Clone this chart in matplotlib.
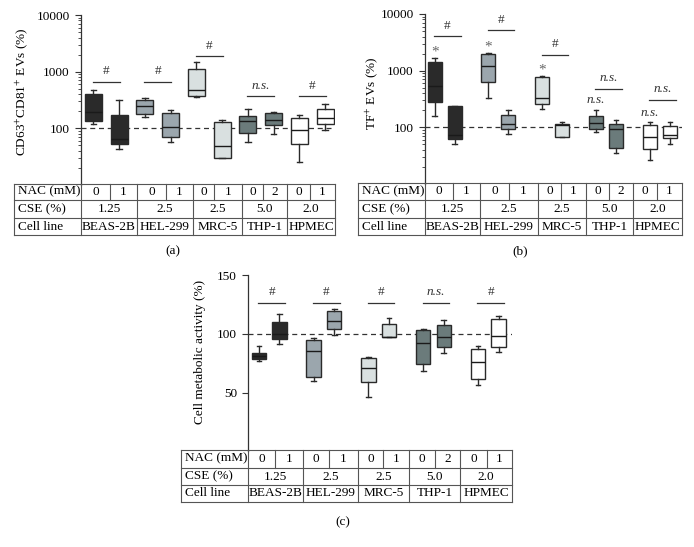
import matplotlib
matplotlib.use('Agg')
import matplotlib.pyplot as plt
from matplotlib.lines import Line2D
from matplotlib.ticker import LogLocator, NullFormatter, FixedLocator

plt.rcParams['font.family'] = ['Liberation Serif', 'DejaVu Serif']
plt.rcParams['mathtext.fontset'] = 'stix'
plt.rcParams['font.size'] = 9.5

W, H = 694, 547

# ---------------- data ----------------
cell_lines = ['BEAS-2B', 'HEL-299', 'MRC-5', 'THP-1', 'HPMEC']
cse_values = ['1.25', '2.5', '2.5', '5.0', '2.0']
nac_values = ['0', '1', '0', '1', '0', '1', '0', '2', '0', '1']
box_colors = ['#2a2a2a', '#9ba6ad', '#d9e0e0', '#6b7b7b', '#ffffff']

# panel (a): CD63+CD81+ EVs (%) -- order: line0 NAC0, line0 NAC1, ...
a_whishi = [468, 320, 348, 208, 1461, 140, 219, 192, 170, 269]
a_q3 = [398, 172, 316, 184, 1100, 128, 163, 186, 150, 219]
a_med = [192, 64, 244, 104, 475, 49, 135, 142, 92, 150]
a_q1 = [137, 52, 179, 69, 367, 30, 84, 113, 52, 119]
a_whislo = [119, 43, 158, 58, 358, 30, 57, 78, 25, 92]
a_sig_y = [666, 666, 1890, 372, 372]
a_sig = ['#', '#', '#', 'n.s.', '#']

# panel (b): TF+ EVs (%)
b_whishi = [1663, 242, 2033, 201, 796, 122, 206, 134, 122, 126]
b_q3 = [1397, 235, 1953, 162, 776, 113, 158, 116, 108, 105]
b_med = [540, 73, 1190, 114, 334, 111, 119, 92, 67, 73]
b_q1 = [280, 61, 626, 92, 262, 67, 94, 44, 41, 64]
b_whislo = [158, 50, 329, 77, 214, 67, 82, 35, 26, 51]
b_sig_y = [4077, 5120, 1901, 479, 308]
b_sig = ['#', '#', '#', 'n.s.', 'n.s.']
b_vs_ctrl_y = [2393, 2924, 1143, 299, 180]
b_vs_ctrl = ['*', '*', '*', 'n.s.', 'n.s.']

# panel (c): Cell metabolic activity (%)
c_whishi = [89.5, 117.3, 96.9, 121.3, 80.1, 113.9, 104.3, 112.2, 90.1, 115.1]
c_q3 = [83.5, 110.5, 94.9, 119.9, 79.5, 108.2, 103.7, 107.4, 86.9, 112.5]
c_med = [81.5, 100.0, 85.5, 111.1, 71.3, 97.7, 92.3, 97.4, 76.1, 98.3]
c_q1 = [79.0, 95.5, 63.6, 104.0, 59.4, 97.4, 74.4, 89.2, 61.4, 89.2]
c_whislo = [76.7, 91.8, 60.2, 99.1, 46.6, 97.4, 68.5, 84.1, 56.3, 84.4]
c_sig_y = [126.7, 126.7, 126.7, 126.7, 126.7]
c_sig = ['#', '#', '#', 'n.s.', '#']

fig = plt.figure(figsize=(W / 100, H / 100), dpi=100)


def fx(px):
    return px / W


def fy(py):
    return 1 - py / H


def add_ax(l, r, t, b):
    return fig.add_axes([fx(l), fy(b), (r - l) / W, (b - t) / H])


def line(x0, y0, x1, y1, color='#555555', lw=0.8):
    fig.add_artist(Line2D([fx(x0), fx(x1)], [fy(y0), fy(y1)], color=color, lw=lw,
                          transform=fig.transFigure))


def draw_boxes(ax, whislo, q1, med, q3, whishi, off, width):
    stats, pos, cols = [], [], []
    for i in range(10):
        g = i // 2
        stats.append(dict(whislo=whislo[i], q1=q1[i], med=med[i], q3=q3[i],
                          whishi=whishi[i], fliers=[]))
        pos.append(g + (-off if i % 2 == 0 else off))
        cols.append(box_colors[g])
    res = ax.bxp(stats, positions=pos, widths=width, patch_artist=True,
                 showfliers=False, capwidths=width * 0.32,
                 boxprops=dict(edgecolor='#2a2a2a', linewidth=1.0),
                 medianprops=dict(color='#1a1a1a', linewidth=1.0),
                 whiskerprops=dict(color='#2a2a2a', linewidth=1.0),
                 capprops=dict(color='#2a2a2a', linewidth=1.0))
    for patch, c in zip(res['boxes'], cols):
        patch.set_facecolor(c)


def style_ax(ax):
    for s in ['top', 'right', 'bottom']:
        ax.spines[s].set_visible(False)
    ax.spines['left'].set_linewidth(0.9)
    ax.spines['left'].set_color('#333333')
    ax.set_xticks([])
    ax.tick_params(axis='y', which='major', direction='out', length=4, width=0.8,
                   color='#333333', pad=4, labelsize=9.5)
    ax.tick_params(axis='y', which='minor', direction='out', length=2, width=0.6,
                   color='#333333')
    ax.patch.set_alpha(0)


def sig_bars(ax, ys, labels, shift, half):
    for g, (y, lab) in enumerate(zip(ys, labels)):
        c = g + shift
        ax.plot([c - half, c + half], [y, y], color='#333333', lw=0.9)
        ax.annotate(lab, (c, y), xytext=(0, 7.5), textcoords='offset points',
                    ha='center', va='center', fontsize=9.5,
                    style='italic' if lab == 'n.s.' else 'normal', color='#333333')


def draw_table(left, axis_x, right, rows, groups, subs):
    for y in rows:
        line(left, y, right, y)
    for x in [left, right] + groups[:-1]:
        line(x, rows[0], x, rows[3])
    for x in subs:
        line(x, rows[0], x, rows[1])
    labels = ['NAC (mM)', 'CSE (%)', 'Cell line']
    for r in range(3):
        yc = (rows[r] + rows[r + 1]) / 2
        fig.text(fx(left + 4), fy(yc), labels[r], ha='left', va='center', fontsize=9.5)
    for g in range(5):
        cells = [(groups[g], subs[g]), (subs[g], groups[g + 1])]
        for k, (a, b) in enumerate(cells):
            fig.text(fx((a + b) / 2), fy((rows[0] + rows[1]) / 2), nac_values[2 * g + k],
                     ha='center', va='center', fontsize=9.5)
        xc = (groups[g] + groups[g + 1]) / 2
        fig.text(fx(xc), fy((rows[1] + rows[2]) / 2), cse_values[g],
                 ha='center', va='center', fontsize=9.5)
        fig.text(fx(xc), fy((rows[2] + rows[3]) / 2), cell_lines[g],
                 ha='center', va='center', fontsize=9.5)


# ---------------- panel (a) ----------------
axa = add_ax(81, 335, 15, 185)
axa.set_yscale('log')
draw_boxes(axa, a_whislo, a_q1, a_med, a_q3, a_whishi, 0.25, 0.33)
axa.set_ylim(10, 10000)
axa.set_xlim(-0.490, 4.442)
axa.axhline(100, color='#333333', lw=0.9, ls=(0, (4, 3)), zorder=0.5)
axa.set_yticks([100, 1000, 10000])
axa.set_yticklabels(['100', '1000', '10000'])
axa.yaxis.set_minor_locator(LogLocator(base=10, subs=range(2, 10)))
axa.yaxis.set_minor_formatter(NullFormatter())
style_ax(axa)
sig_bars(axa, a_sig_y, a_sig, 0.0, 0.26)
fig.text(fx(22), fy(92), 'CD63$^{+}$CD81$^{+}$ EVs (%)', rotation=90,
         ha='center', va='center', fontsize=9.5)
draw_table(13.5, 81, 335, [183.5, 200, 218, 235],
           [81, 137, 193, 242, 287, 335], [110, 165.7, 214.3, 263.3, 310])
fig.text(fx(173), fy(251), '(a)', ha='center', va='center', fontsize=9.5)

# ---------------- panel (b) ----------------
axb = add_ax(425, 682, 14, 184)
axb.set_yscale('log')
draw_boxes(axb, b_whislo, b_q1, b_med, b_q3, b_whishi, 0.186, 0.26)
axb.set_ylim(10, 10000)
axb.set_xlim(-0.364, 4.413)
axb.axhline(100, color='#333333', lw=0.9, ls=(0, (4, 3)), zorder=0.5)
axb.set_yticks([100, 1000, 10000])
axb.set_yticklabels(['100', '1000', '10000'])
axb.yaxis.set_minor_locator(LogLocator(base=10, subs=range(2, 10)))
axb.yaxis.set_minor_formatter(NullFormatter())
style_ax(axb)
sig_bars(axb, b_sig_y, b_sig, 0.05, 0.248)
for g, (y, lab) in enumerate(zip(b_vs_ctrl_y, b_vs_ctrl)):
    if lab == '*':
        axb.annotate(lab, (g - 0.186, y), xytext=(0, -2), textcoords='offset points',
                     ha='center', va='center', fontsize=11, color='#666666')
    else:
        axb.annotate(lab, (g - 0.186, y), ha='center', va='center', fontsize=9.5,
                     style='italic', color='#333333')
fig.text(fx(372), fy(93), 'TF$^{+}$ EVs (%)', rotation=90,
         ha='center', va='center', fontsize=9.5)
draw_table(358, 425, 682, [183, 200, 218, 235],
           [425, 480, 538, 586, 633, 682], [452.7, 509.3, 561.3, 609.3, 657])
fig.text(fx(520), fy(251), '(b)', ha='center', va='center', fontsize=9.5)

# ---------------- panel (c) ----------------
axc = add_ax(248, 512, 275.3, 451.4)
draw_boxes(axc, c_whislo, c_q1, c_med, c_q3, c_whishi, 0.188, 0.264)
axc.set_ylim(0, 150)
axc.set_xlim(-0.386, 4.433)
axc.axhline(100, color='#333333', lw=0.9, ls=(0, (4, 3)), zorder=0.5)
axc.yaxis.set_major_locator(FixedLocator([50, 100, 150]))
style_ax(axc)
sig_bars(axc, c_sig_y, c_sig, 0.045, 0.243)
fig.text(fx(200), fy(352), 'Cell metabolic activity (%)', rotation=90,
         ha='center', va='center', fontsize=9.5)
draw_table(181, 248.3, 512.3, [449.5, 468, 485, 502],
           [248.3, 302.7, 357.7, 409.3, 460, 512.3], [275, 329.3, 383.3, 435, 486.7])
fig.text(fx(343), fy(522), '(c)', ha='center', va='center', fontsize=9.5)

fig.savefig('out.png', dpi=100)
